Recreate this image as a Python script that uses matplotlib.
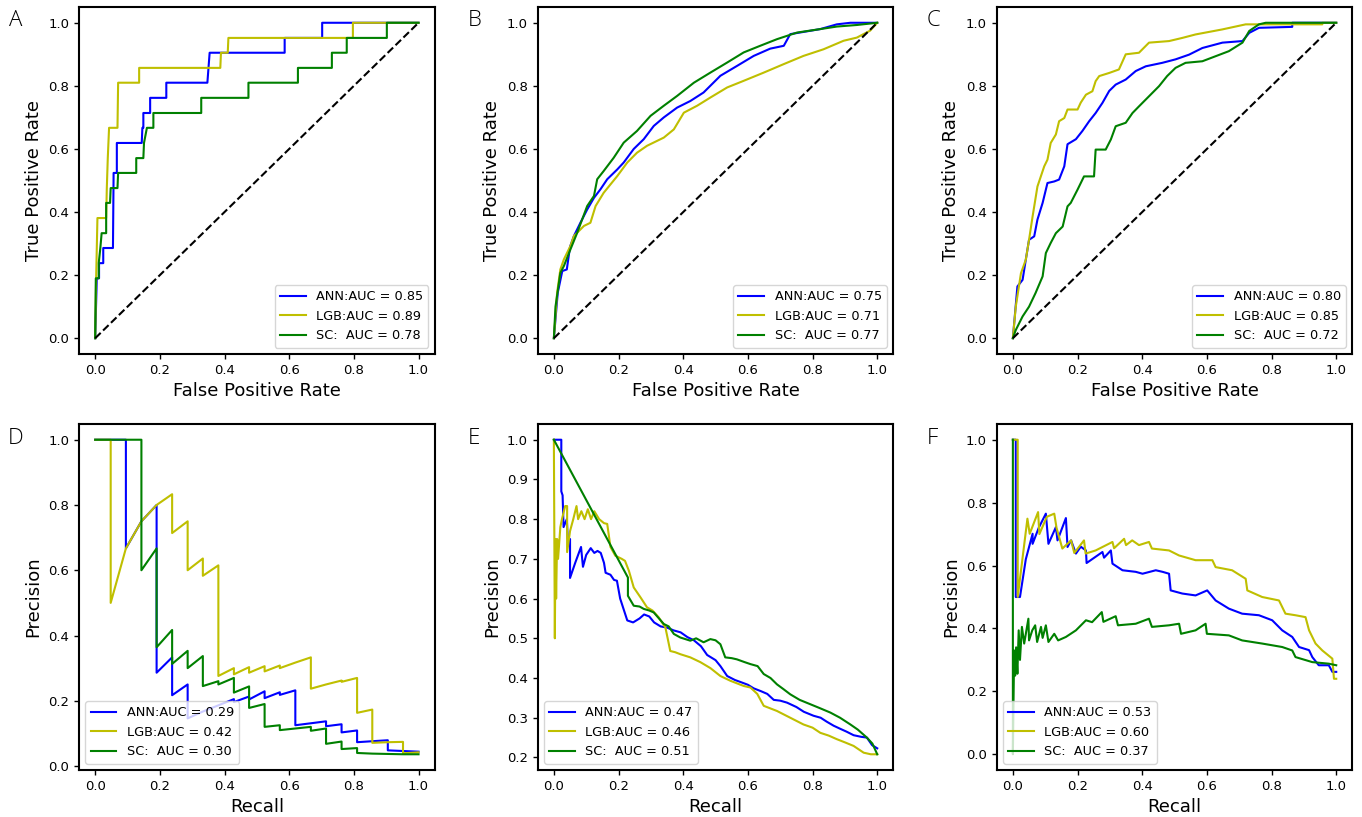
import matplotlib
matplotlib.use('Agg')
import matplotlib.pyplot as plt

# ---------------- Panel A (ROC) ----------------
A_ann_fpr = [0, 0.005, 0.012, 0.012, 0.025, 0.025, 0.055, 0.057, 0.067, 0.067, 0.144, 0.146, 0.149, 0.149,
             0.17, 0.17, 0.22, 0.22, 0.347, 0.354, 0.586, 0.586, 0.702, 0.702, 1.0]
A_ann_tpr = [0, 0.19, 0.19, 0.238, 0.238, 0.286, 0.286, 0.524, 0.524, 0.619, 0.619, 0.667, 0.667, 0.714,
             0.714, 0.762, 0.762, 0.81, 0.81, 0.905, 0.905, 0.952, 0.952, 1.0, 1.0]
A_lgb_fpr = [0, 0.003, 0.007, 0.034, 0.036, 0.039, 0.043, 0.069, 0.071, 0.136, 0.136, 0.387, 0.389, 0.41,
             0.412, 0.797, 0.797, 1.0]
A_lgb_tpr = [0, 0.19, 0.381, 0.381, 0.476, 0.571, 0.667, 0.667, 0.81, 0.81, 0.857, 0.857, 0.905, 0.905,
             0.952, 0.952, 1.0, 1.0]
A_sc_fpr = [0, 0.002, 0.011, 0.011, 0.016, 0.02, 0.034, 0.034, 0.046, 0.048, 0.069, 0.071, 0.127, 0.127,
            0.149, 0.151, 0.16, 0.18, 0.18, 0.328, 0.328, 0.474, 0.474, 0.627, 0.627, 0.732, 0.732, 0.778,
            0.778, 0.902, 0.902, 1.0]
A_sc_tpr = [0, 0.19, 0.19, 0.238, 0.286, 0.333, 0.333, 0.429, 0.429, 0.476, 0.476, 0.524, 0.524, 0.571,
            0.571, 0.619, 0.667, 0.667, 0.714, 0.714, 0.762, 0.762, 0.81, 0.81, 0.857, 0.857, 0.905, 0.905,
            0.952, 0.952, 1.0, 1.0]
A_labels = ["ANN:AUC = 0.85", "LGB:AUC = 0.89", "SC:  AUC = 0.78"]

# ---------------- Panel B (ROC) ----------------
B_ann_fpr = [0, 0.012, 0.026, 0.04, 0.05, 0.062, 0.082, 0.103, 0.124, 0.144, 0.165, 0.196, 0.216, 0.247,
             0.278, 0.309, 0.34, 0.381, 0.422, 0.463, 0.515, 0.566, 0.618, 0.669, 0.711, 0.731, 0.772,
             0.824, 0.875, 0.917, 1.0]
B_ann_tpr = [0, 0.144, 0.213, 0.218, 0.29, 0.324, 0.366, 0.408, 0.445, 0.472, 0.504, 0.535, 0.557, 0.6,
             0.631, 0.673, 0.7, 0.731, 0.752, 0.779, 0.832, 0.863, 0.895, 0.918, 0.927, 0.964, 0.971,
             0.98, 0.995, 1.0, 1.0]
B_lgb_fpr = [0, 0.01, 0.02, 0.031, 0.051, 0.062, 0.093, 0.113, 0.129, 0.154, 0.196, 0.227, 0.257, 0.288,
             0.34, 0.371, 0.402, 0.443, 0.484, 0.536, 0.587, 0.649, 0.711, 0.772, 0.834, 0.896, 0.937,
             0.978, 1.0]
B_lgb_tpr = [0, 0.144, 0.218, 0.25, 0.292, 0.324, 0.356, 0.366, 0.419, 0.461, 0.514, 0.557, 0.588, 0.61,
             0.636, 0.662, 0.715, 0.737, 0.763, 0.795, 0.816, 0.842, 0.869, 0.895, 0.916, 0.943, 0.953,
             0.975, 1.0]
B_sc_fpr = [0, 0.005, 0.02, 0.031, 0.051, 0.072, 0.103, 0.124, 0.134, 0.154, 0.185, 0.216, 0.257, 0.299,
            0.34, 0.381, 0.433, 0.484, 0.536, 0.587, 0.638, 0.69, 0.752, 0.824, 0.875, 0.937, 1.0]
B_sc_tpr = [0, 0.1, 0.207, 0.229, 0.281, 0.334, 0.419, 0.451, 0.504, 0.53, 0.572, 0.62, 0.657, 0.705,
            0.737, 0.768, 0.81, 0.842, 0.874, 0.906, 0.927, 0.948, 0.969, 0.98, 0.988, 0.993, 1.0]
B_labels = ["ANN:AUC = 0.75", "LGB:AUC = 0.71", "SC:  AUC = 0.77"]

# ---------------- Panel C (ROC) ----------------
C_ann_fpr = [0, 0.014, 0.03, 0.04, 0.05, 0.066, 0.076, 0.092, 0.107, 0.128, 0.143, 0.159, 0.169, 0.195,
             0.215, 0.236, 0.256, 0.277, 0.298, 0.318, 0.349, 0.38, 0.411, 0.462, 0.503, 0.545, 0.586,
             0.648, 0.71, 0.731, 0.761, 0.864, 0.864, 1.0]
C_ann_tpr = [0, 0.164, 0.185, 0.249, 0.312, 0.323, 0.376, 0.429, 0.492, 0.497, 0.503, 0.545, 0.615, 0.631,
             0.657, 0.688, 0.714, 0.746, 0.784, 0.804, 0.82, 0.847, 0.862, 0.873, 0.884, 0.899, 0.92,
             0.937, 0.942, 0.968, 0.984, 0.987, 1.0, 1.0]
C_lgb_fpr = [0, 0.009, 0.025, 0.04, 0.05, 0.061, 0.076, 0.097, 0.107, 0.117, 0.133, 0.143, 0.159, 0.169,
             0.2, 0.21, 0.226, 0.246, 0.256, 0.267, 0.298, 0.328, 0.349, 0.39, 0.421, 0.483, 0.524, 0.565,
             0.648, 0.72, 0.957, 0.957, 1.0]
C_lgb_tpr = [0, 0.1, 0.206, 0.249, 0.312, 0.386, 0.481, 0.545, 0.566, 0.619, 0.646, 0.688, 0.698, 0.725,
             0.725, 0.747, 0.772, 0.783, 0.815, 0.831, 0.841, 0.852, 0.9, 0.905, 0.937, 0.942, 0.952, 0.963,
             0.979, 0.995, 0.995, 1.0, 1.0]
C_sc_fpr = [0, 0.009, 0.03, 0.05, 0.07, 0.092, 0.102, 0.117, 0.133, 0.154, 0.169, 0.179, 0.2, 0.22, 0.251,
            0.256, 0.287, 0.303, 0.318, 0.349, 0.37, 0.39, 0.421, 0.452, 0.477, 0.503, 0.534, 0.586, 0.627,
            0.668, 0.71, 0.731, 0.761, 0.782, 1.0]
C_sc_tpr = [0, 0.026, 0.069, 0.1, 0.143, 0.196, 0.27, 0.302, 0.333, 0.354, 0.418, 0.429, 0.471, 0.513, 0.513,
            0.598, 0.598, 0.63, 0.672, 0.683, 0.714, 0.735, 0.767, 0.799, 0.831, 0.857, 0.873, 0.878, 0.894,
            0.91, 0.937, 0.974, 0.995, 1.0, 1.0]
C_labels = ["ANN:AUC = 0.80", "LGB:AUC = 0.85", "SC:  AUC = 0.72"]

# ---------------- Panel D (PR) ----------------
D_ann_rec = [0, 0.095, 0.095, 0.143, 0.19, 0.19, 0.238, 0.238, 0.286, 0.286, 0.333, 0.381, 0.429, 0.429,
             0.476, 0.476, 0.524, 0.524, 0.571, 0.571, 0.619, 0.619, 0.667, 0.714, 0.714, 0.762, 0.762,
             0.81, 0.81, 0.857, 0.905, 0.905, 0.952, 1.0]
D_ann_prec = [1.0, 1.0, 0.667, 0.75, 0.8, 0.286, 0.333, 0.217, 0.25, 0.146, 0.167, 0.186, 0.205, 0.196,
              0.213, 0.204, 0.229, 0.208, 0.226, 0.218, 0.232, 0.125, 0.131, 0.137, 0.122, 0.128, 0.103,
              0.109, 0.073, 0.076, 0.079, 0.048, 0.046, 0.044]
D_lgb_rec = [0, 0.048, 0.048, 0.095, 0.143, 0.19, 0.238, 0.238, 0.286, 0.286, 0.333, 0.333, 0.381, 0.381,
             0.429, 0.429, 0.476, 0.476, 0.524, 0.524, 0.571, 0.571, 0.619, 0.667, 0.667, 0.714, 0.762,
             0.762, 0.81, 0.81, 0.857, 0.857, 0.905, 0.952, 0.952, 1.0]
D_lgb_prec = [1.0, 1.0, 0.5, 0.667, 0.75, 0.8, 0.833, 0.714, 0.75, 0.6, 0.636, 0.583, 0.615, 0.276,
              0.3, 0.281, 0.303, 0.286, 0.306, 0.29, 0.308, 0.3, 0.317, 0.333, 0.237, 0.25, 0.262,
              0.258, 0.27, 0.163, 0.173, 0.071, 0.073, 0.074, 0.039, 0.042]
D_sc_rec = [0, 0.143, 0.143, 0.19, 0.19, 0.238, 0.238, 0.286, 0.286, 0.333, 0.333, 0.381, 0.381, 0.429,
            0.429, 0.476, 0.476, 0.524, 0.524, 0.571, 0.571, 0.619, 0.667, 0.667, 0.714, 0.714, 0.762,
            0.762, 0.81, 0.81, 0.857, 0.905, 0.952, 1.0]
D_sc_prec = [1.0, 1.0, 0.6, 0.667, 0.364, 0.417, 0.313, 0.353, 0.3, 0.337, 0.245, 0.26, 0.25, 0.27,
             0.225, 0.244, 0.178, 0.19, 0.12, 0.125, 0.11, 0.115, 0.12, 0.108, 0.115, 0.068, 0.075,
             0.052, 0.055, 0.04, 0.038, 0.037, 0.036, 0.036]
D_labels = ["ANN:AUC = 0.29", "LGB:AUC = 0.42", "SC:  AUC = 0.30"]

# ---------------- Panel E (PR) ----------------
E_ann_rec = [0, 0.023, 0.023, 0.027, 0.03, 0.04, 0.043, 0.05, 0.05, 0.066, 0.084, 0.09, 0.1, 0.114, 0.125,
             0.135, 0.145, 0.155, 0.16, 0.175, 0.186, 0.195, 0.205, 0.217, 0.227, 0.245, 0.265, 0.279, 0.295,
             0.31, 0.33, 0.35, 0.37, 0.392, 0.413, 0.433, 0.455, 0.474, 0.5, 0.515, 0.536, 0.56, 0.577, 0.6,
             0.618, 0.64, 0.66, 0.68, 0.7, 0.721, 0.75, 0.773, 0.803, 0.825, 0.844, 0.865, 0.886, 0.905,
             0.927, 0.95, 0.968, 0.984, 1.0]
E_ann_prec = [1.0, 1.0, 0.87, 0.86, 0.78, 0.8, 0.75, 0.75, 0.652, 0.69, 0.73, 0.68, 0.71, 0.727, 0.715,
              0.72, 0.715, 0.69, 0.665, 0.66, 0.647, 0.645, 0.6, 0.57, 0.545, 0.54, 0.55, 0.56, 0.555,
              0.54, 0.53, 0.527, 0.52, 0.515, 0.503, 0.495, 0.48, 0.458, 0.445, 0.43, 0.405, 0.395, 0.39,
              0.383, 0.374, 0.367, 0.36, 0.345, 0.343, 0.338, 0.327, 0.315, 0.305, 0.3, 0.29, 0.28, 0.272,
              0.265, 0.256, 0.252, 0.25, 0.231, 0.223]
E_lgb_rec = [0, 0.003, 0.005, 0.007, 0.01, 0.013, 0.02, 0.025, 0.035, 0.041, 0.041, 0.05, 0.06, 0.07,
             0.075, 0.085, 0.095, 0.105, 0.115, 0.125, 0.14, 0.155, 0.165, 0.175, 0.19, 0.21, 0.22, 0.232,
             0.247, 0.268, 0.288, 0.305, 0.324, 0.345, 0.36, 0.375, 0.391, 0.422, 0.453, 0.484, 0.515,
             0.546, 0.587, 0.608, 0.629, 0.649, 0.69, 0.731, 0.772, 0.8, 0.824, 0.85, 0.875, 0.9, 0.927,
             0.958, 0.98, 1.0]
E_lgb_prec = [1.0, 0.5, 0.75, 0.6, 0.75, 0.7, 0.78, 0.8, 0.833, 0.833, 0.717, 0.77, 0.8, 0.833, 0.8, 0.82,
              0.8, 0.825, 0.8, 0.82, 0.8, 0.79, 0.788, 0.73, 0.708, 0.7, 0.695, 0.67, 0.628, 0.603, 0.578,
              0.57, 0.553, 0.527, 0.468, 0.465, 0.46, 0.452, 0.44, 0.425, 0.405, 0.393, 0.38, 0.376, 0.36,
              0.33, 0.317, 0.3, 0.283, 0.275, 0.262, 0.255, 0.246, 0.238, 0.229, 0.212, 0.208, 0.208]
E_sc_rec = [0, 0.229, 0.229, 0.247, 0.265, 0.278, 0.295, 0.309, 0.325, 0.34, 0.355, 0.371, 0.391, 0.422,
            0.44, 0.463, 0.484, 0.5, 0.515, 0.53, 0.55, 0.566, 0.59, 0.608, 0.63, 0.649, 0.67, 0.69, 0.71,
            0.731, 0.76, 0.793, 0.82, 0.855, 0.885, 0.917, 0.94, 0.968, 0.985, 1.0]
E_sc_prec = [1.0, 0.653, 0.607, 0.582, 0.58, 0.574, 0.57, 0.565, 0.55, 0.536, 0.53, 0.511, 0.502, 0.494,
             0.5, 0.49, 0.498, 0.495, 0.485, 0.452, 0.45, 0.447, 0.44, 0.435, 0.43, 0.41, 0.4, 0.384,
             0.372, 0.359, 0.345, 0.334, 0.325, 0.313, 0.3, 0.283, 0.27, 0.25, 0.235, 0.208]
E_labels = ["ANN:AUC = 0.47", "LGB:AUC = 0.46", "SC:  AUC = 0.51"]

# ---------------- Panel F (PR) ----------------
F_ann_rec = [0, 0.009, 0.009, 0.022, 0.04, 0.061, 0.061, 0.08, 0.102, 0.11, 0.133, 0.138, 0.164, 0.169,
             0.18, 0.195, 0.21, 0.226, 0.228, 0.277, 0.282, 0.303, 0.308, 0.339, 0.38, 0.401, 0.442, 0.463,
             0.483, 0.488, 0.524, 0.565, 0.601, 0.627, 0.668, 0.709, 0.761, 0.802, 0.833, 0.864, 0.885,
             0.916, 0.926, 0.946, 0.977, 0.988, 1.0]
F_ann_prec = [1.0, 1.0, 0.5, 0.5, 0.62, 0.701, 0.669, 0.72, 0.765, 0.669, 0.722, 0.68, 0.751, 0.659, 0.68,
              0.638, 0.66, 0.648, 0.608, 0.643, 0.625, 0.648, 0.606, 0.585, 0.58, 0.574, 0.585, 0.58, 0.574,
              0.521, 0.511, 0.505, 0.521, 0.489, 0.463, 0.447, 0.442, 0.426, 0.394, 0.373, 0.341, 0.331,
              0.309, 0.283, 0.283, 0.262, 0.262]
F_lgb_rec = [0, 0.015, 0.015, 0.045, 0.052, 0.078, 0.082, 0.105, 0.128, 0.135, 0.153, 0.18, 0.19, 0.22,
             0.225, 0.256, 0.308, 0.313, 0.344, 0.35, 0.369, 0.39, 0.421, 0.43, 0.483, 0.514, 0.565, 0.617,
             0.627, 0.678, 0.72, 0.725, 0.771, 0.823, 0.843, 0.874, 0.905, 0.916, 0.936, 0.957, 0.988,
             0.993, 1.0]
F_lgb_prec = [1.0, 1.0, 0.5, 0.749, 0.701, 0.77, 0.7, 0.755, 0.765, 0.72, 0.654, 0.68, 0.64, 0.68, 0.638,
              0.648, 0.675, 0.655, 0.685, 0.665, 0.68, 0.665, 0.675, 0.654, 0.648, 0.632, 0.617, 0.617,
              0.595, 0.585, 0.558, 0.521, 0.5, 0.489, 0.447, 0.442, 0.436, 0.394, 0.352, 0.33, 0.304,
              0.24, 0.24]
F_sc_rec = [0, 0, 0.002, 0.004, 0.007, 0.01, 0.014, 0.018, 0.022, 0.028, 0.035, 0.048, 0.05, 0.06, 0.069,
            0.075, 0.087, 0.092, 0.102, 0.11, 0.128, 0.14, 0.164, 0.195, 0.226, 0.245, 0.275, 0.28, 0.318,
            0.325, 0.38, 0.421, 0.43, 0.483, 0.514, 0.52, 0.565, 0.596, 0.6, 0.668, 0.709, 0.771, 0.833,
            0.864, 0.874, 0.926, 0.977, 1.0]
F_sc_prec = [1.0, 0.0, 0.17, 0.33, 0.25, 0.34, 0.256, 0.394, 0.3, 0.405, 0.352, 0.431, 0.362, 0.394, 0.41,
             0.357, 0.405, 0.37, 0.41, 0.357, 0.383, 0.362, 0.373, 0.394, 0.426, 0.42, 0.452, 0.421, 0.439,
             0.41, 0.415, 0.431, 0.405, 0.41, 0.415, 0.383, 0.394, 0.415, 0.383, 0.378, 0.362, 0.352,
             0.341, 0.33, 0.309, 0.293, 0.288, 0.283]
F_labels = ["ANN:AUC = 0.53", "LGB:AUC = 0.60", "SC:  AUC = 0.37"]

colors = ['b', 'y', 'g']

# ---------------- Figure ----------------
W, H = 1362, 817
fig = plt.figure(figsize=(W / 100, H / 100), dpi=100)

col_left = [79, 537.7, 996.7]
col_w = 355.7
rows = [(7, 354), (424, 770)]


def make_ax(col, row):
    top, bot = rows[row]
    return fig.add_axes([col_left[col] / W, (H - bot) / H, col_w / W, (bot - top) / H])


def style(ax):
    for s in ax.spines.values():
        s.set_linewidth(1.5)
    ax.tick_params(labelsize=9.5, width=1.0, length=3.5)


roc = [
    (A_ann_fpr, A_ann_tpr, A_lgb_fpr, A_lgb_tpr, A_sc_fpr, A_sc_tpr, A_labels),
    (B_ann_fpr, B_ann_tpr, B_lgb_fpr, B_lgb_tpr, B_sc_fpr, B_sc_tpr, B_labels),
    (C_ann_fpr, C_ann_tpr, C_lgb_fpr, C_lgb_tpr, C_sc_fpr, C_sc_tpr, C_labels),
]
pr = [
    (D_ann_rec, D_ann_prec, D_lgb_rec, D_lgb_prec, D_sc_rec, D_sc_prec, D_labels),
    (E_ann_rec, E_ann_prec, E_lgb_rec, E_lgb_prec, E_sc_rec, E_sc_prec, E_labels),
    (F_ann_rec, F_ann_prec, F_lgb_rec, F_lgb_prec, F_sc_rec, F_sc_prec, F_labels),
]

lw = 1.5
for i, (x1, y1, x2, y2, x3, y3, labs) in enumerate(roc):
    ax = make_ax(i, 0)
    ax.plot(x1, y1, color=colors[0], lw=lw, label=labs[0])
    ax.plot(x2, y2, color=colors[1], lw=lw, label=labs[1])
    ax.plot(x3, y3, color=colors[2], lw=lw, label=labs[2])
    ax.plot([0, 1], [0, 1], 'k--', lw=lw)
    ax.set_xlabel('False Positive Rate', fontsize=13)
    ax.set_ylabel('True Positive Rate', fontsize=13)
    ax.set_xticks([0, 0.2, 0.4, 0.6, 0.8, 1.0])
    ax.set_yticks([0, 0.2, 0.4, 0.6, 0.8, 1.0])
    style(ax)
    ax.legend(loc='lower right', fontsize=9.3)

for i, (x1, y1, x2, y2, x3, y3, labs) in enumerate(pr):
    ax = make_ax(i, 1)
    ax.plot(x1, y1, color=colors[0], lw=lw, label=labs[0])
    ax.plot(x2, y2, color=colors[1], lw=lw, label=labs[1])
    ax.plot(x3, y3, color=colors[2], lw=lw, label=labs[2])
    ax.set_xlabel('Recall', fontsize=13)
    ax.set_ylabel('Precision', fontsize=13)
    ax.set_xticks([0, 0.2, 0.4, 0.6, 0.8, 1.0])
    style(ax)
    ax.legend(loc='lower left', fontsize=9.3)

letters = [('A', 16, 20), ('B', 475, 20), ('C', 933, 20),
           ('D', 16, 439), ('E', 474, 439), ('F', 932, 439)]
for t, x, y in letters:
    fig.text(x / W, 1 - y / H, t, ha='center', va='center', fontsize=16,
             family=['Open Sans', 'DejaVu Sans'], fontweight='light')

fig.savefig('out.png', dpi=100)
